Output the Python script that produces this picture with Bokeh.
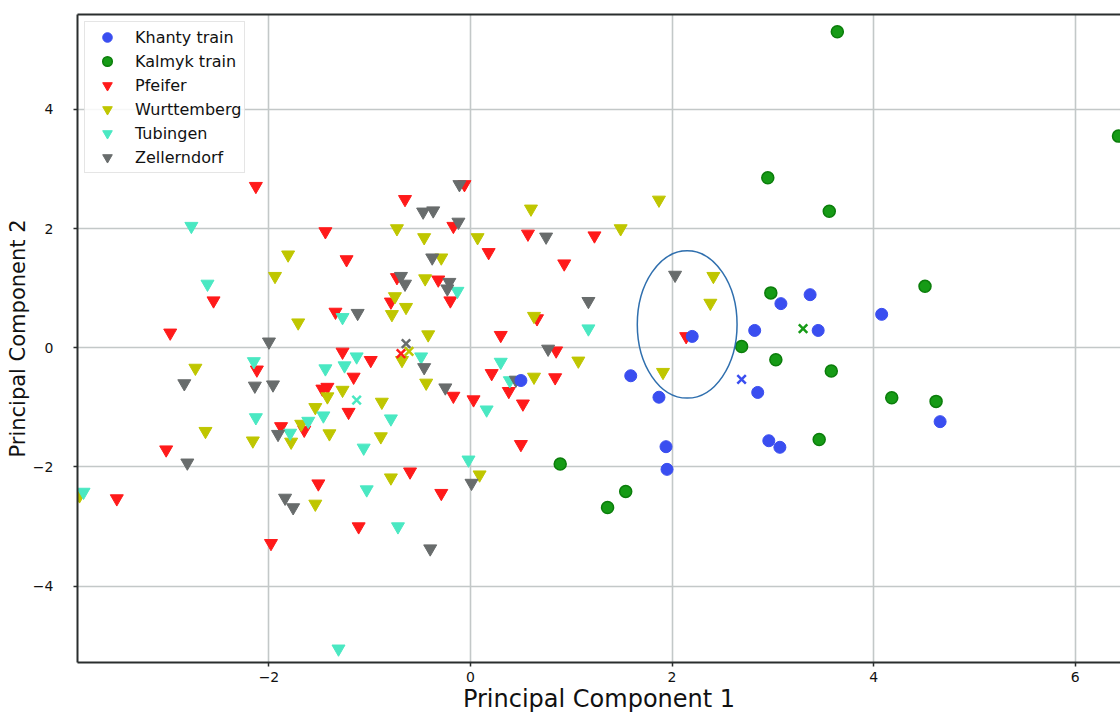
from bokeh.plotting import figure
from bokeh.models import Range1d, FixedTicker, LinearAxis
from bokeh.embed import file_html
from bokeh.resources import INLINE

# ---------------- data ----------------
khanty_x = [0.50, 1.59, 1.87, 1.94, 1.95, 2.20, 2.82, 2.85, 2.96, 3.07, 3.08, 3.37, 3.45, 4.08, 4.66]
khanty_y = [-0.55, -0.47, -0.83, -1.66, -2.04, 0.19, 0.29, -0.75, -1.56, -1.67, 0.74, 0.89, 0.29, 0.56, -1.24]

kalmyk_x = [2.95, 3.64, 3.56, 6.43, 2.98, 4.51, 3.03, 3.58, 4.18, 4.62, 3.46, 2.69, 0.89, 1.54, 1.36]
kalmyk_y = [2.85, 5.30, 2.29, 3.55, 0.92, 1.03, -0.20, -0.39, -0.84, -0.90, -1.54, 0.02, -1.95, -2.41, -2.68]

pfeifer_x = [-2.13, -0.65, -1.44, -0.06, -0.17, 0.57, 1.23, 0.18, 0.93, -1.23, -0.73, -0.32, -0.20, -0.79,
             0.66, 0.30, -2.55, -1.34, -2.98, -1.27, -0.99, -2.12, -1.16, -1.42, -1.47, -1.21, -1.88, -1.65,
             -3.02, -0.60, -0.17, 0.03, 0.85, 0.21, 0.84, 0.38, 0.52, 0.50, -1.51, -0.29, -1.11, -3.51, -1.98, 2.14]
pfeifer_y = [2.71, 2.49, 1.95, 2.74, 2.04, 1.91, 1.88, 1.60, 1.41, 1.48, 1.18, 1.14, 0.79, 0.77,
             0.49, 0.21, 0.79, 0.60, 0.25, -0.07, -0.21, -0.37, -0.49, -0.66, -0.69, -1.08, -1.32, -1.38,
             -1.71, -2.08, -0.81, -0.87, -0.05, -0.43, -0.50, -0.73, -0.94, -1.62, -2.28, -2.44, -3.00, -2.53, -3.28, 0.19]

wurt_x = [-0.73, -0.46, 0.60, 1.87, 1.49, 0.07, -0.29, -0.45, -0.75, -0.64, -0.78, 0.63, -0.42, -1.81,
          -1.94, -1.71, -0.68, -0.44, -2.73, -1.42, -1.27, -0.88, -1.54, -1.68, -1.78, -1.40, -0.89, -2.63,
          -2.16, 1.07, 0.63, 0.09, -0.79, -1.54, -3.88, 2.41, 2.38, 1.91]
wurt_y = [2.00, 1.85, 2.33, 2.48, 2.00, 1.85, 1.51, 1.16, 0.86, 0.68, 0.56, 0.53, 0.22, 1.56,
          1.20, 0.42, -0.21, -0.59, -0.34, -0.82, -0.71, -0.91, -1.00, -1.28, -1.58, -1.44, -1.49, -1.40,
          -1.56, -0.22, -0.49, -2.13, -2.18, -2.62, -2.48, 1.20, 0.75, -0.41]

tub_x = [-2.77, -2.61, -0.13, -1.27, 1.17, -1.13, -0.49, -2.15, -1.44, -1.25, -1.46, -0.79, -2.13, -1.61,
         -1.79, -1.06, 0.16, 0.30, 0.39, -0.02, -1.03, -0.72, -3.84, -1.31]
tub_y = [2.04, 1.07, 0.95, 0.51, 0.32, -0.15, -0.15, -0.23, -0.35, -0.30, -1.14, -1.19, -1.17, -1.23,
         -1.43, -1.68, -1.04, -0.24, -0.55, -1.88, -2.38, -3.00, -2.42, -5.05]

zell_x = [-0.11, -0.47, -0.37, -0.12, 0.75, -0.38, -0.69, -0.65, -0.21, -0.23, -1.12, -2.00, 1.17, -0.46,
          -2.84, -2.14, -1.96, -1.91, -2.81, -0.25, 0.77, 0.45, 0.01, -1.84, -1.76, -0.40, 2.03]
zell_y = [2.74, 2.28, 2.30, 2.11, 1.86, 1.51, 1.20, 1.07, 1.10, 0.99, 0.58, 0.10, 0.78, -0.33,
          -0.60, -0.64, -0.62, -1.45, -1.93, -0.67, -0.02, -0.54, -2.27, -2.52, -2.68, -3.37, 1.22]

# centroids (x markers), order: Khanty, Kalmyk, Pfeifer, Wurttemberg, Tubingen, Zellerndorf
centroid_x = [2.69, 3.30, -0.69, -0.61, -1.13, -0.64]
centroid_y = [-0.53, 0.32, -0.10, -0.06, -0.88, 0.07]

# highlighted region (ellipse)
highlight_x = [2.15]
highlight_y = [0.39]
highlight_w = [0.99]
highlight_h = [2.47]

x_ticks = [-2, 0, 2, 4, 6]
y_ticks = [-4, -2, 0, 2, 4]
x_label = "Principal Component 1"
y_label = "Principal Component 2"

# ---------------- styles ----------------
C_KHANTY = "#3a4ef0"
C_KALMYK = "#169b16"
C_PFEIFER = "#ff1a1a"
C_WURT = "#bfc600"
C_TUB = "#4ae8c2"
C_ZELL = "#686c6c"
FONT = "DejaVu Sans"

p = figure(width=1120, height=718, output_backend="svg", toolbar_location=None,
           x_range=Range1d(-3.90, 6.45), y_range=Range1d(-5.28, 5.59),
           min_border_left=77, min_border_right=0, min_border_top=14, min_border_bottom=56,
           background_fill_color="white", border_fill_color="white")
p.outline_line_color = None

xax = p.below[0]
yax = p.left[0]
xax.ticker = FixedTicker(ticks=x_ticks)
yax.ticker = FixedTicker(ticks=y_ticks)
p.xgrid[0].ticker = FixedTicker(ticks=x_ticks)
p.ygrid[0].ticker = FixedTicker(ticks=y_ticks)
for g in (p.xgrid[0], p.ygrid[0]):
    g.grid_line_color = "#c3c8c8"
    g.grid_line_width = 1.6

minus = "\u2212"
xax.major_label_overrides = {t: (minus + str(abs(t)) if t < 0 else str(t)) for t in x_ticks}
yax.major_label_overrides = {t: (minus + str(abs(t)) if t < 0 else str(t)) for t in y_ticks}

for ax in (xax, yax):
    ax.axis_line_color = "#2a2e2e"
    ax.axis_line_width = 2
    ax.major_tick_line_color = "#2a2e2e"
    ax.major_tick_line_width = 1.5
    ax.major_tick_out = 4
    ax.major_tick_in = 0
    ax.minor_tick_line_color = None
    ax.major_label_text_font = FONT
    ax.major_label_text_font_size = "14px"
    ax.major_label_text_color = "#111111"
    ax.axis_label_text_font = FONT
    ax.axis_label_text_font_style = "normal"
    ax.axis_label_text_color = "#111111"

xax.axis_label = x_label
xax.axis_label_text_font_size = "24px"
xax.major_label_standoff = 5
xax.axis_label_standoff = 0
yax.axis_label = y_label
yax.axis_label_text_font_size = "21px"
yax.major_label_standoff = 20
yax.axis_label_standoff = 0

top = LinearAxis(ticker=FixedTicker(ticks=[]), axis_line_color="#2a2e2e", axis_line_width=2,
                 major_tick_line_color=None, minor_tick_line_color=None,
                 major_label_text_font_size="0px")
p.add_layout(top, "above")

# ---------------- glyphs ----------------
tri = dict(marker="inverted_triangle", size=13, line_width=1)
p.scatter(pfeifer_x, pfeifer_y, fill_color=C_PFEIFER, line_color=C_PFEIFER, legend_label="Pfeifer", **tri)
p.scatter(wurt_x, wurt_y, fill_color=C_WURT, line_color=C_WURT, legend_label="Wurttemberg", **tri)
p.scatter(tub_x, tub_y, fill_color=C_TUB, line_color=C_TUB, legend_label="Tubingen", **tri)
p.scatter(zell_x, zell_y, fill_color=C_ZELL, line_color=C_ZELL, legend_label="Zellerndorf", **tri)
p.scatter(khanty_x, khanty_y, marker="circle", size=12, fill_color=C_KHANTY, line_color=C_KHANTY,
          legend_label="Khanty train")
p.scatter(kalmyk_x, kalmyk_y, marker="circle", size=12, fill_color=C_KALMYK, line_color="#0b7d0b",
          line_width=1.5, legend_label="Kalmyk train")

p.scatter(centroid_x, centroid_y, marker="x", size=12, line_width=2.5,
          line_color=[C_KHANTY, C_KALMYK, C_PFEIFER, C_WURT, C_TUB, C_ZELL])

p.ellipse(x=highlight_x, y=highlight_y, width=highlight_w, height=highlight_h,
          fill_color=None, line_color="#2f6fae", line_width=1.5)

# ---------------- legend ----------------
leg = p.legend[0]
order = ["Khanty train", "Kalmyk train", "Pfeifer", "Wurttemberg", "Tubingen", "Zellerndorf"]
leg.items = sorted(leg.items, key=lambda it: order.index(it.label.value))
leg.location = "top_left"
leg.margin = 7
leg.padding = 3
leg.spacing = 0
leg.glyph_height = 24
leg.glyph_width = 38
leg.label_height = 20
leg.label_standoff = 9
leg.label_text_font = FONT
leg.label_text_font_size = "16px"
leg.label_text_color = "#111111"
leg.border_line_color = "#cccccc"
leg.border_line_width = 1
leg.background_fill_alpha = 0.85

open("out.html", "w").write(file_html(p, INLINE))
